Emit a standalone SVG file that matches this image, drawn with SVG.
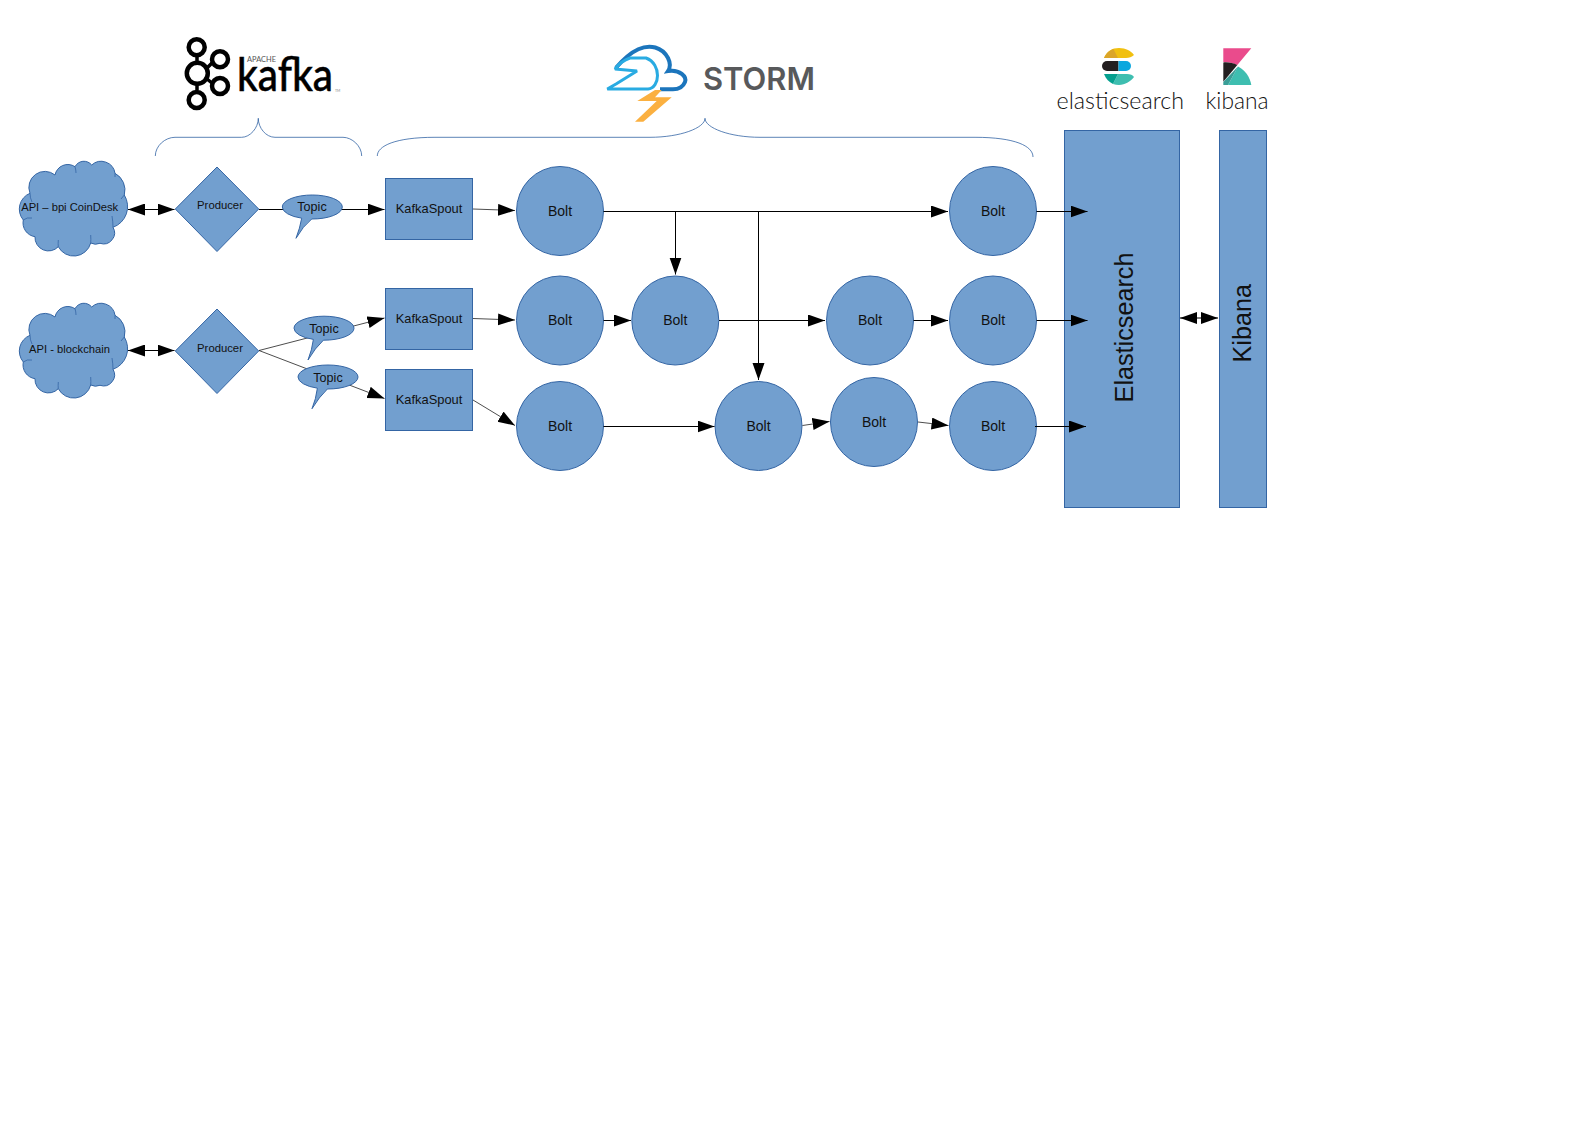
<svg xmlns="http://www.w3.org/2000/svg" width="1588" height="1123" viewBox="0 0 1588 1123">
<style>
.s{fill:#729fcf;stroke:#3465a4;stroke-width:1}
.t{font-family:"Liberation Sans",Arial,sans-serif;fill:#111;text-anchor:middle}
.b{font-size:14px}.k{font-size:12.9px}.p{font-size:11.3px}.o{font-size:12.6px}.a{font-size:11.2px}
.r{font-size:25.2px}
.c{fill:none;stroke:#000;stroke-width:1}
.f{stroke-width:.7}
.e{marker-end:url(#ah)}
.d{marker-end:url(#ah);marker-start:url(#as)}
.br{fill:none;stroke:#3465a4;stroke-width:.8}
.in{fill:none;stroke:#3465a4;stroke-width:.8}
.km{fill:none;stroke:#000}
</style>
<defs>
<marker id="ah" markerUnits="userSpaceOnUse" markerWidth="18" markerHeight="13" refX="17" refY="6" orient="auto"><path d="M0,0L17,6L0,12z" fill="#000"/></marker>
<marker id="as" markerUnits="userSpaceOnUse" markerWidth="18" markerHeight="13" refX="0" refY="6" orient="auto"><path d="M17,0L0,6L17,12z" fill="#000"/></marker>
<g id="cloud">
<path class="s" d="M30,193.3A16,16 0 0 1 55,175A13,13 0 0 1 75,166.7A10,10 0 0 1 91.7,165A14,14 0 0 1 115,173.3A19,19 0 0 1 124.3,195A22,22 0 0 1 113,227.3A11,11 0 0 1 100,243.3A11,11 0 0 1 90.7,243A17.5,17.5 0 0 1 58.3,246.7A13.5,13.5 0 0 1 35,236.7A14,14 0 0 1 23.3,220A17,17 0 0 1 30,193.3Z"/>
<path class="in" d="M30,193.3Q30,198 32,202M23.3,220Q27,217 32,218M58.3,240Q58,244 58.3,246.7M90.7,235Q91,240 90.7,243M112,216Q113,222 113,227.3M75,166.7Q76,170 76,173M115,173.3L115,177M124.3,195L121,199"/>
</g>
</defs>
<rect width="1588" height="1123" fill="#fff"/>
<g id="kafka-logo">
<g class="km">
<path stroke-width="3.5" d="M197,57V62M197,85V90M207,68L212,63M207,79L212,83"/>
<circle cx="196.7" cy="47.3" r="8" stroke-width="4.5"/>
<circle cx="197.3" cy="73.3" r="10.5" stroke-width="4.5"/>
<circle cx="220" cy="59.3" r="8" stroke-width="4.5"/>
<circle cx="220" cy="86" r="8" stroke-width="4.5"/>
<circle cx="196.7" cy="100" r="8" stroke-width="4.5"/>
</g>
<text x="237" y="90.5" font-family="Lato,sans-serif" font-size="46" font-weight="500" stroke="#000" stroke-width=".5" textLength="96" lengthAdjust="spacingAndGlyphs" fill="#000">kafka</text>
<text x="247" y="62" font-family="Lato,sans-serif" font-size="7.5" textLength="29" lengthAdjust="spacingAndGlyphs" fill="#555">APACHE</text>
<text x="335" y="92" font-family="Lato,sans-serif" font-size="3.5" fill="#888">TM</text>
</g>
<g id="storm-logo">
<path d="M616,67.7Q628,54 638.3,49.3C650,44 662,47 668,58C671,64 670,68 668,71C680,69 687,77 685,82C683,87 679,89.3 673,89.3H660" fill="none" stroke="#1c75bc" stroke-width="4"/>
<path d="M607.3,89H648C660,88 662,64 646,58H630Q621,61 615,69L637,71L616,84Z" fill="none" stroke="#29abe2" stroke-width="3" stroke-linejoin="bevel"/>
<path d="M655,90H661.7L655,97.3H671.7L643.3,121.7H635L656.7,101H637.3Z" fill="#fbb040"/>
<text x="703" y="90" font-family="Inter,sans-serif" font-size="31" font-weight="600" textLength="112" lengthAdjust="spacingAndGlyphs" fill="#58595b">STORM</text>
</g>
<g id="elastic-logo">
<path d="M1104,58C1107,51 1112,48 1119,48C1126,48 1131,51 1134,55C1132,57 1129,58 1126,58Z" fill="#f1c010"/>
<path d="M1104,58C1106,53 1110,50 1113.5,49L1118,58Z" fill="#dba528"/>
<path d="M1118.5,61H1107A5,5 0 0 0 1107,71H1118.5Z" fill="#231f20"/>
<path d="M1118.5,61H1126A5,5 0 0 1 1126,71H1118.5Z" fill="#0ca7de"/>
<path d="M1113,84L1118,74H1127C1130,74 1133,75 1134,77C1131,81 1125,85 1119,85C1117,85 1115,84.6 1113,84Z" fill="#3ebeb0"/>
<path d="M1104,74H1118L1113,84C1109,82 1106,79 1104,74Z" fill="#05a08f"/>
<text x="1056.5" y="108.5" font-family="Lato,sans-serif" font-size="24" font-weight="300" textLength="127.5" lengthAdjust="spacingAndGlyphs" fill="#111">elasticsearch</text>
</g>
<g id="kibana-logo">
<path d="M1223.3,48.3H1251.3L1237.3,65C1233,63 1228,62 1223.3,62Z" fill="#ea4b8c"/>
<path d="M1223.3,62.5C1228,62 1233,63 1237.3,65L1223.3,81.7Z" fill="#231f20"/>
<path d="M1238,66.5C1245,70 1250,77 1251.3,85H1228Z" fill="#3ebeb0"/>
<path d="M1223.3,85V82L1238,66.5L1228,85Z" fill="#3a9e97"/>
<text x="1205.5" y="109" font-family="Lato,sans-serif" font-size="24" font-weight="300" textLength="63" lengthAdjust="spacingAndGlyphs" fill="#111">kibana</text>
</g>
<g id="braces">
<path class="br" d="M155.3,156C155.3,146 165,137.3 175,137.3H241.7C250,137.3 258.3,128 258.3,118.3C258.3,128 266,137.3 275,137.3H343C352,137.3 361.7,146 361.7,156"/>
<path class="br" d="M377.3,156C377.3,146 395,137.3 435,137.3H650C680,137.3 705,128 705,118.3C705,128 730,137.3 760,137.3H975C1015,137.3 1033,146 1033,157"/>
</g>
<g id="api1"><use href="#cloud"/><text class="t a" x="69.7" y="211">API – bpi CoinDesk</text></g>
<g id="api2"><use href="#cloud" y="142"/><text class="t a" x="69.5" y="353">API - blockchain</text></g>
<g id="producer1"><path class="s" d="M217,167L258.7,209L217,251.5L175.3,209Z"/><text class="t p" x="220" y="209">Producer</text></g>
<g id="producer2"><path class="s" d="M217,309L258.7,351L217,393.5L175.3,351Z"/><text class="t p" x="220" y="352">Producer</text></g>
<g id="spout1"><rect class="s" x="385.5" y="178.5" width="87" height="61"/><text class="t k" x="429" y="213">KafkaSpout</text></g>
<g id="spout2"><rect class="s" x="385.5" y="288.5" width="87" height="61"/><text class="t k" x="429" y="323">KafkaSpout</text></g>
<g id="spout3"><rect class="s" x="385.5" y="369.5" width="87" height="61"/><text class="t k" x="429" y="404">KafkaSpout</text></g>
<g id="bolt1"><ellipse class="s" cx="560" cy="211" rx="43.5" ry="44.5"/><text class="t b" x="560" y="216">Bolt</text></g>
<g id="bolt2"><ellipse class="s" cx="560" cy="320.5" rx="43.5" ry="44.5"/><text class="t b" x="560" y="325">Bolt</text></g>
<g id="bolt3"><ellipse class="s" cx="560" cy="426" rx="43.5" ry="44.5"/><text class="t b" x="560" y="431">Bolt</text></g>
<g id="bolt4"><ellipse class="s" cx="675.3" cy="320.5" rx="43.5" ry="44.5"/><text class="t b" x="675.3" y="325">Bolt</text></g>
<g id="bolt5"><ellipse class="s" cx="758.5" cy="426" rx="43.5" ry="44.5"/><text class="t b" x="758.5" y="431">Bolt</text></g>
<g id="bolt6"><ellipse class="s" cx="870" cy="320.5" rx="43.5" ry="44.5"/><text class="t b" x="870" y="325">Bolt</text></g>
<g id="bolt7"><ellipse class="s" cx="874" cy="422" rx="43.5" ry="44.5"/><text class="t b" x="874" y="427">Bolt</text></g>
<g id="bolt8"><ellipse class="s" cx="993" cy="211" rx="43.5" ry="44.5"/><text class="t b" x="993" y="216">Bolt</text></g>
<g id="bolt9"><ellipse class="s" cx="993" cy="320.5" rx="43.5" ry="44.5"/><text class="t b" x="993" y="325">Bolt</text></g>
<g id="bolt10"><ellipse class="s" cx="993" cy="426" rx="43.5" ry="44.5"/><text class="t b" x="993" y="431">Bolt</text></g>
<g id="elasticsearch"><rect class="s" x="1064.5" y="130.5" width="115" height="377"/><text class="t r" transform="translate(1133.3 327.5) rotate(-90)">Elasticsearch</text></g>
<g id="kibana"><rect class="s" x="1219.5" y="130.5" width="47" height="377"/><text class="t r" transform="translate(1251 323.3) rotate(-90)">Kibana</text></g>
<g id="connectors">
<path class="c d" d="M128,209.5H174.5"/>
<path class="c d" d="M128,350.5H174.5"/>
<path class="c e" d="M259,209.5H384.5"/>
<path class="c f e" d="M259,350.5L384.5,318"/>
<path class="c f e" d="M259,350.5L384.5,398.5"/>
<path class="c f e" d="M473,209L515,210.5"/>
<path class="c f e" d="M473,318.5L515,320"/>
<path class="c f e" d="M473,400L515,425.5"/>
<path class="c e" d="M603.5,211.5H948"/>
<path class="c e" d="M675.5,211.5V274.5"/>
<path class="c e" d="M758.5,211.5V380"/>
<path class="c e" d="M603.5,320.5H631"/>
<path class="c e" d="M719,320.5H825"/>
<path class="c e" d="M913.5,320.5H948"/>
<path class="c e" d="M603.5,426.5H714.5"/>
<path class="c f e" d="M802.5,425.5L829.5,421.5"/>
<path class="c f e" d="M918,422L948.5,425.5"/>
<path class="c e" d="M1036.5,211.5H1087.5"/>
<path class="c e" d="M1036.5,320.5H1087.5"/>
<path class="c e" d="M1035,426.5H1086"/>
<path class="c d" d="M1180,318H1218"/>
</g>
<g id="topic1"><path class="s" d="M301.7,218.2A30,12 0 0 1 282.3,207A30,12 0 0 1 342.3,207A30,12 0 0 1 311.7,219Q303,226 296,238.3Q300,228 301.7,218.2Z"/><text class="t o" x="312" y="211">Topic</text></g>
<g id="topic2"><path class="s" d="M313.4,339.4A30,12 0 0 1 294,328.2A30,12 0 0 1 354,328.2A30,12 0 0 1 323.4,340.2Q315,348 308,360Q312,350 313.4,339.4Z"/><text class="t o" x="324" y="333">Topic</text></g>
<g id="topic3"><path class="s" d="M317.4,388.2A30,12 0 0 1 298,377A30,12 0 0 1 358,377A30,12 0 0 1 327.4,389Q319,397 312,408.7Q316,399 317.4,388.2Z"/><text class="t o" x="328" y="382">Topic</text></g>
</svg>
